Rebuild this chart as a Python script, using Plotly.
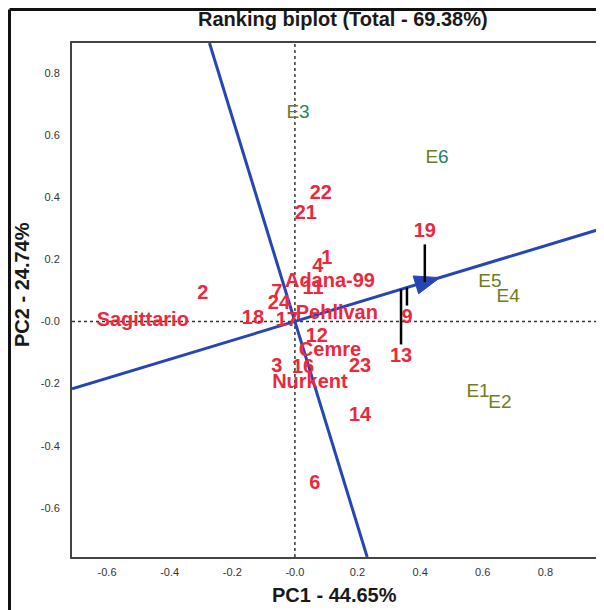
import plotly.graph_objects as go

# ---------------- data ----------------
GENOTYPES = ["Sagittario", "2", "18", "7", "24", "17", "11", "Adana-99", "4", "1",
             "Pehlivan", "12", "Cemre", "3", "16", "Nurkent", "23", "13", "9", "19",
             "22", "21", "14", "6"]
GEN_PC1 = [-0.486, -0.294, -0.134, -0.058, -0.051, -0.026, 0.058, 0.112, 0.073, 0.102,
           0.134, 0.070, 0.112, -0.058, 0.026, 0.048, 0.208, 0.339, 0.358, 0.415,
           0.083, 0.035, 0.208, 0.064]
GEN_PC2 = [0.002, 0.089, 0.008, 0.092, 0.056, 0.002, 0.105, 0.127, 0.175, 0.201,
           0.024, -0.050, -0.095, -0.146, -0.150, -0.198, -0.146, -0.114, 0.011, 0.288,
           0.410, 0.346, -0.304, -0.523]

ENVIRONMENTS = ["E1", "E2", "E3", "E4", "E5", "E6"]
ENV_PC1 = [0.585, 0.655, 0.010, 0.681, 0.623, 0.454]
ENV_PC2 = [-0.229, -0.262, 0.671, 0.079, 0.127, 0.526]

AVERAGE_ENV = [0.463, 0.141]          # average-environment (AEC) arrow tip
PROJECTED = ["19", "13", "9"]         # genotypes with drop lines to the AEC

TICK_VALUES = [-0.6, -0.4, -0.2, 0.0, 0.2, 0.4, 0.6, 0.8]
X_TICK_TEXT = ["-0.6", "-0.4", "-0.2", "-0.0", "0.2", "0.4", "0.6", "0.8"]
Y_TICK_VALUES = [0.8, 0.6, 0.4, 0.2, 0.0, -0.2, -0.4, -0.6]
Y_TICK_TEXT = ["0.8", "0.6", "0.4", "0.2", "-0.0", "-0.2", "-0.4", "-0.6"]

TITLE = "Ranking biplot (Total - 69.38%)"
X_TITLE = "PC1 - 44.65%"
Y_TITLE = "PC2 - 24.74%"

# ---------------- styling ----------------
X_RANGE = [-0.712, 0.965]
Y_RANGE = [-0.758, 0.896]
BLUE = "#2746b4"
RED = "#ec283d"
OLIVE = "#727a24"
TEAL = "#1a8563"
FONT = "Liberation Sans, Arial, sans-serif"

PAGE_OFF = 8                      # default body margin of the html page
W, H = 604 - PAGE_OFF, 610 - PAGE_OFF
# plot area in page pixels: x 72..597, y 43..557
ML = 72 - PAGE_OFF
MT = 43 - PAGE_OFF
MR = W - (597 - PAGE_OFF)
MB = H - (557 - PAGE_OFF)
PW, PH = W - ML - MR, H - MT - MB


def px_to_paper(px, py):
    """page pixel -> paper coordinates"""
    fx, fy = px - PAGE_OFF, py - PAGE_OFF
    return (fx - ML) / PW, (H - MB - fy) / PH


fig = go.Figure()

# dotted reference axes through the origin
fig.add_trace(go.Scatter(x=X_RANGE, y=[0, 0], mode="lines",
                         line=dict(color="#333333", width=1.5, dash="dot"), hoverinfo="skip"))
fig.add_trace(go.Scatter(x=[0, 0], y=Y_RANGE, mode="lines",
                         line=dict(color="#333333", width=1.5, dash="dot"), hoverinfo="skip"))

# AEC abscissa (through origin and average environment) and its perpendicular
slope = AVERAGE_ENV[1] / AVERAGE_ENV[0]
fig.add_trace(go.Scatter(x=X_RANGE, y=[slope * v for v in X_RANGE], mode="lines",
                         line=dict(color=BLUE, width=3), hoverinfo="skip"))
fig.add_trace(go.Scatter(x=[-slope * v for v in Y_RANGE], y=Y_RANGE, mode="lines",
                         line=dict(color=BLUE, width=3), hoverinfo="skip"))

# arrow head at the average environment
norm = (1 + slope ** 2) ** 0.5
ux, uy = 1 / norm, slope / norm
nx, ny = -uy, ux
head_len, head_half = 0.08, 0.03
tx, ty = AVERAGE_ENV
bx, by = tx - head_len * ux, ty - head_len * uy
fig.add_trace(go.Scatter(
    x=[tx, bx + head_half * nx, bx - head_half * nx, tx],
    y=[ty, by + head_half * ny, by - head_half * ny, ty],
    mode="lines", fill="toself", fillcolor=BLUE,
    line=dict(color=BLUE, width=1), hoverinfo="skip"))

# drop lines from selected genotypes to the AEC abscissa
trim = 0.04
for name in PROJECTED:
    i = GENOTYPES.index(name)
    gx, gy = GEN_PC1[i], GEN_PC2[i]
    fy = slope * gx
    sign = 1 if fy > gy else -1
    fig.add_trace(go.Scatter(x=[gx, gx], y=[gy + sign * trim, fy], mode="lines",
                             line=dict(color="black", width=2.5), hoverinfo="skip"))

# genotype labels
fig.add_trace(go.Scatter(x=GEN_PC1, y=GEN_PC2, mode="text", text=GENOTYPES,
                         textposition="middle center",
                         textfont=dict(family=FONT, size=20, color=RED, weight="bold"),
                         hoverinfo="skip"))

# environment labels (E in olive, digit in olive or teal)
env_text = []
for e in ENVIRONMENTS:
    digit_color = TEAL if e in ("E3", "E6") else OLIVE
    env_text.append(f"<span style='color:{OLIVE}'>E</span><span style='color:{digit_color}'>{e[1:]}</span>")
fig.add_trace(go.Scatter(x=ENV_PC1, y=ENV_PC2, mode="text", text=env_text,
                         textposition="middle center",
                         textfont=dict(family=FONT, size=19, color=OLIVE),
                         hoverinfo="skip"))

# titles
tx_p = px_to_paper(343, 19)
xt_p = px_to_paper(334, 595)
yt_p = px_to_paper(22, 285)
annotations = [
    dict(text=f"<b>{TITLE}</b>", x=tx_p[0], y=tx_p[1], xref="paper", yref="paper",
         showarrow=False, font=dict(family=FONT, size=20, color="#1a1a1a"),
         xanchor="center", yanchor="middle"),
    dict(text=f"<b>{X_TITLE}</b>", x=xt_p[0], y=xt_p[1], xref="paper", yref="paper",
         showarrow=False, font=dict(family=FONT, size=20, color="#1a1a1a"),
         xanchor="center", yanchor="middle"),
    dict(text=f"<b>{Y_TITLE}</b>", x=yt_p[0], y=yt_p[1], xref="paper", yref="paper",
         showarrow=False, textangle=-90, font=dict(family=FONT, size=20, color="#1a1a1a"),
         xanchor="center", yanchor="middle"),
]

# outer frame (top and left edges visible in the reference), kept inside the figure
lx, topy = px_to_paper(PAGE_OFF + 1.5, PAGE_OFF + 1.5)
rx, boty = px_to_paper(620, 620)
shapes = [
    dict(type="line", xref="paper", yref="paper", x0=lx, x1=lx, y0=boty, y1=topy,
         line=dict(color="#111111", width=3)),
    dict(type="line", xref="paper", yref="paper", x0=lx, x1=rx, y0=topy, y1=topy,
         line=dict(color="#111111", width=3)),
]

axis_common = dict(showgrid=False, zeroline=False, showline=True, mirror=True,
                   linecolor="#444444", linewidth=2, ticks="",
                   tickfont=dict(family=FONT, size=11, color="#333333"))

fig.update_layout(
    width=W, height=H,
    margin=dict(l=ML, r=MR, t=MT, b=MB, autoexpand=False),
    paper_bgcolor="white", plot_bgcolor="white",
    showlegend=False, hovermode=False,
    xaxis=dict(range=X_RANGE, tickvals=TICK_VALUES, ticktext=X_TICK_TEXT,
               ticklabelstandoff=4, automargin=False, **axis_common),
    yaxis=dict(range=Y_RANGE, tickvals=Y_TICK_VALUES, ticktext=Y_TICK_TEXT,
               ticklabelstandoff=8, automargin=False, **axis_common),
    annotations=annotations,
    shapes=shapes,
)

fig.write_html("out.html")
